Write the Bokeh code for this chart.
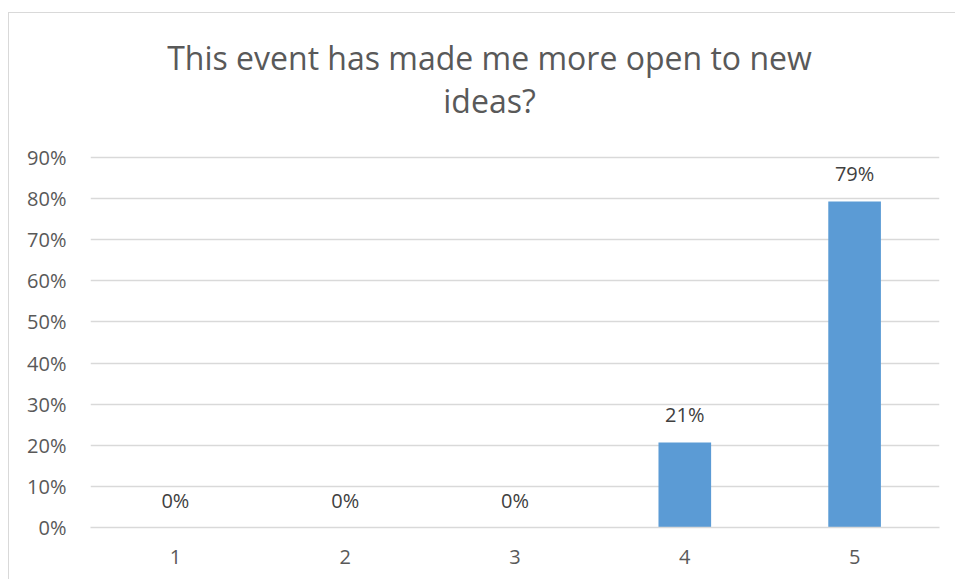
from bokeh.plotting import figure
from bokeh.models import (ColumnDataSource, LabelSet, Label, NumeralTickFormatter,
                          FixedTicker)
from bokeh.core.properties import value
from bokeh.embed import file_html
from bokeh.resources import INLINE

title_lines = ["This event has made me more open to new", "ideas?"]
categories = ["1", "2", "3", "4", "5"]
values = [0.0, 0.0, 0.0, 0.207, 0.793]
value_labels = ["0%", "0%", "0%", "21%", "79%"]
y_ticks = [0.0, 0.1, 0.2, 0.3, 0.4, 0.5, 0.6, 0.7, 0.8, 0.9]

FONT = "Open Sans"
BORDER = "#d9d9d9"

# layout: plot frame spans the full height above the axis so the title can live in it;
# 0..90% occupies the bottom 370px of the 527px-tall frame
FRAME_H = 527
AXIS_H = 370
y_end = y_ticks[-1] * FRAME_H / AXIS_H

src = ColumnDataSource(dict(cat=categories, val=values, lab=value_labels))

p = figure(width=955, height=579, x_range=categories, y_range=(0, y_end),
           output_backend="svg", toolbar_location=None,
           min_border_left=90, min_border_right=16, min_border_top=0,
           min_border_bottom=52)
p.outline_line_color = None
p.background_fill_color = None
p.border_fill_color = None
p.styles = {
    "background": (f"linear-gradient({BORDER},{BORDER}) 8px 12px / 1px 100% no-repeat, "
                   f"linear-gradient({BORDER},{BORDER}) 8px 12px / 100% 1px no-repeat, white"),
}

p.vbar(x="cat", top="val", width=0.31, source=src, color="#5b9bd5", line_color=None)

labels = LabelSet(x="cat", y="val", text="lab", source=src, y_offset=14,
                  text_align="center", text_baseline="bottom",
                  text_font=value(FONT), text_font_size="20px", text_color="#404040")
p.add_layout(labels)

# axes
p.yaxis.ticker = FixedTicker(ticks=y_ticks)
p.yaxis.formatter = NumeralTickFormatter(format="0%")
for ax in (p.xaxis, p.yaxis):
    ax.major_tick_line_color = None
    ax.minor_tick_line_color = None
    ax.major_label_text_font = FONT
    ax.major_label_text_font_size = "20px"
    ax.major_label_text_color = "#595959"
p.yaxis.axis_line_color = None
p.xaxis.axis_line_color = BORDER
p.xaxis.axis_line_width = 1.3
p.yaxis.major_label_standoff = 18
p.xaxis.major_label_standoff = 16

p.xgrid.grid_line_color = None
p.ygrid.grid_line_color = BORDER
p.ygrid.grid_line_width = 1.3

# title (two lines), positioned relative to the plot frame (y measured up from its bottom)
for i, t in enumerate(title_lines):
    p.add_layout(Label(x=399, y=470 - 43 * i, x_units="screen", y_units="screen",
                       text=t, text_align="center", text_baseline="middle",
                       text_font=FONT, text_font_size="32px", text_color="#595959"))

open("out.html", "w").write(file_html(p, INLINE))
